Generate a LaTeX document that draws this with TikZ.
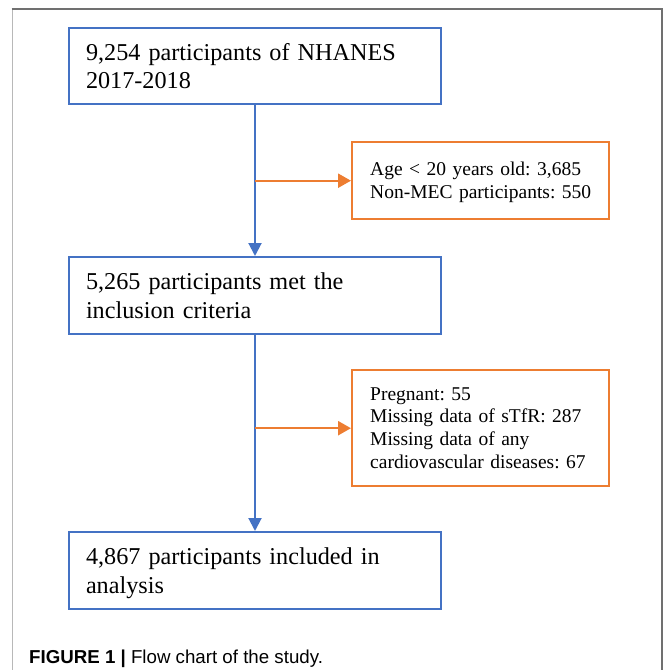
\documentclass[tikz,border=0pt]{standalone}
\usepackage{fontspec}
\setmainfont{Liberation Serif}
\setsansfont{Liberation Sans}
\usetikzlibrary{arrows.meta,calc}
\definecolor{boxblue}{HTML}{4472C4}
\definecolor{boxorange}{HTML}{ED7D31}
\definecolor{framedark}{HTML}{707070}
\definecolor{framelight}{HTML}{B8B8B8}
\tikzset{
  bluebox/.style={draw=boxblue, line width=2pt, anchor=north west,
    minimum width=372pt, text width=338pt, inner xsep=17pt, inner ysep=0pt,
    align=left, text height=18pt, text depth=29.8pt,
    font=\fontsize{24.2}{28.8}\selectfont\frenchspacing},
  orangebox/.style={draw=boxorange, line width=2.4pt, anchor=north west,
    minimum width=257pt, text width=221pt, inner xsep=18pt, inner ysep=0pt,
    align=left, text height=13pt,
    font=\fontsize{19.5}{22.8}\selectfont\frenchspacing},
  bluearrow/.style={draw=boxblue, line width=2pt, -{Triangle[length=13pt,width=13pt]}},
  orangearrow/.style={draw=boxorange, line width=2.4pt, -{Triangle[length=13pt,width=14pt]}},
  caption/.style={anchor=base west, inner sep=0pt, font=\sffamily\fontsize{18.7}{22}\selectfont}
}
\begin{document}
\begin{tikzpicture}[x=1pt,y=-1pt]
\useasboundingbox (0,0) rectangle (663,670);
% frame
\coordinate (ftl) at (12.5,9);
\coordinate (ftr) at (661.5,9);
\coordinate (fbl) at (12.5,671);
\coordinate (fbr) at (661.5,671);
\draw[framelight, line width=1.6pt] (ftl) -- (fbl);
\draw[framedark, line width=2pt] (11.7,9) -- (ftr) -- (fbr);
% boxes
\node[bluebox, minimum height=76pt] (b1) at (68,27) {9,254 participants of NHANES\\2017-2018};
\node[bluebox, minimum height=77pt] (b2) at (68,256) {5,265 participants met the\\inclusion criteria};
\node[bluebox, minimum height=77pt] (b3) at (68,531) {4,867 participants included in\\analysis};
\node[orangebox, minimum height=77pt, text depth=23.8pt] (o1) at (351,141) {Age < 20 years old: 3,685\\Non-MEC participants: 550};
\node[orangebox, minimum height=116pt, text depth=69.4pt] (o2) at (351,369) {Pregnant: 55\\Missing data of sTfR: 287\\Missing data of any\\cardiovascular diseases: 67};
% connectors
\draw[bluearrow] (b1.south) -- (b2.north);
\draw[bluearrow] (b2.south) -- (b3.north);
\draw[orangearrow] (b1.south |- o1.west) -- (o1.west);
\draw[orangearrow] (b2.south |- o2.west) -- (o2.west);
% caption
\node[caption] (cap) at (29,663) {{\bfseries FIGURE 1 |} Flow chart of the study.};
\end{tikzpicture}
\end{document}
